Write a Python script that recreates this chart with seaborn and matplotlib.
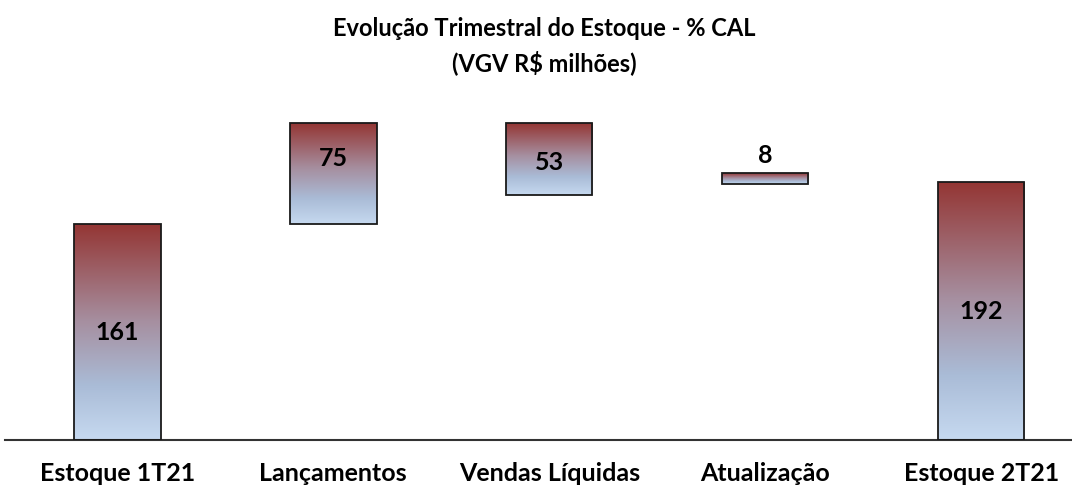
import matplotlib
matplotlib.use("Agg")
import matplotlib.pyplot as plt
import numpy as np
import pandas as pd
import seaborn as sns
from matplotlib.colors import LinearSegmentedColormap

# Chart data (VGV R$ milhões)
categories = ["Estoque 1T21", "Lançamentos", "Vendas Líquidas", "Atualização", "Estoque 2T21"]
values = [161, 75, 53, 8, 192]
bases = [0, 161, 183, 191, 0]
# where the value label sits, as fraction of bar height (None = above the bar)
label_pos = [0.5, 0.65, 0.45, None, 0.5]

sns.set_theme(style="white")
plt.rcParams["font.family"] = ["Lato", "DejaVu Sans"]

df = pd.DataFrame({"categoria": categories, "valor": values})

fig = plt.figure(figsize=(10.72, 4.87), dpi=100)
ax = fig.add_axes([5 / 1072, 1 - 440 / 487, 1 - 5 / 1072, (440 - 110) / 487])

sns.barplot(data=df, x="categoria", y="valor", width=0.4, ax=ax,
            color="white", edgecolor="#1a1a1a", linewidth=1.3, saturation=1)

# gradient: dark red on top, light blue at the bottom
cmap = LinearSegmentedColormap.from_list(
    "estoque",
    [(0.0, "#c6d9f0"), (0.25, "#aabcd7"), (0.55, "#a68fa0"), (1.0, "#943634")])
grad = np.linspace(0, 1, 256).reshape(-1, 1)

for patch, base, val in zip(ax.patches, bases, values):
    patch.set_y(base)
    patch.set_height(val)
    patch.set_facecolor("none")
    patch.set_zorder(3)
    x0 = patch.get_x()
    w = patch.get_width()
    im = ax.imshow(grad, cmap=cmap, aspect="auto", origin="lower",
                   extent=[x0, x0 + w, base, base + val], zorder=2)
    im.set_clip_path(patch)

for i, (base, val, pos) in enumerate(zip(bases, values, label_pos)):
    if pos is not None:
        ax.text(i, base + val * pos, str(val), ha="center", va="center",
                fontsize=18, fontweight="bold", color="black", zorder=4)
    else:
        ax.text(i, base + val + 13, str(val), ha="center", va="center",
                fontsize=18, fontweight="bold", color="black", zorder=4)

ax.set_xlim(-0.52, 4.42)
ax.set_ylim(0, 246)
ax.set_xlabel("")
ax.set_ylabel("")
ax.set_yticks([])
ax.tick_params(axis="x", length=0, pad=16, labelsize=18, labelcolor="black")
for lbl in ax.get_xticklabels():
    lbl.set_fontweight("bold")
for side in ["top", "right", "left"]:
    ax.spines[side].set_visible(False)
ax.spines["bottom"].set_color("#333333")
ax.spines["bottom"].set_linewidth(1.5)

fig.text(0.508, 1 - 46 / 487, "Evolução Trimestral do Estoque - % CAL\n(VGV R$ milhões)",
         ha="center", va="center", fontsize=17, fontweight="bold",
         color="black", linespacing=1.45)

fig.savefig("out.png", dpi=100)
